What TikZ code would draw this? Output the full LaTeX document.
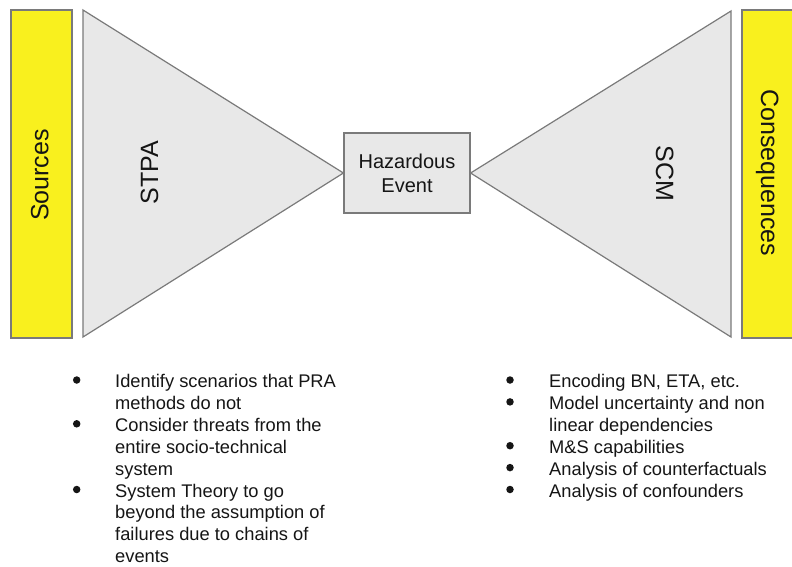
\documentclass[tikz,border=0pt]{standalone}
\usepackage{fontspec}
\setmainfont{Liberation Sans}
\definecolor{barYellow}{HTML}{F9F01E}
\definecolor{wedgeGray}{HTML}{E8E8E8}
\definecolor{edgeGray}{HTML}{7A7A7A}
\definecolor{ink}{HTML}{151515}
\begin{document}
\begin{tikzpicture}[x=1pt,y=-1pt,
  bar/.style={fill=barYellow,draw=edgeGray,line width=1.2pt,inner sep=0},
  wedge/.style={fill=wedgeGray,draw=edgeGray,line width=1.2pt,line join=miter},
  sidelabel/.style={text=ink,font=\fontsize{25}{30}\selectfont,inner sep=0,anchor=base},
  eventbox/.style={fill=wedgeGray,draw=edgeGray,line width=1.2pt,minimum width=126pt,
    minimum height=80pt,align=center,text=ink,font=\fontsize{20}{24.3}\selectfont,inner sep=0},
  dot/.style={circle,fill=ink,inner sep=0,minimum size=7.5pt},
  item/.style={anchor=base west,inner sep=0,text=ink,font=\fontsize{18.3}{21.9}\selectfont}
]
\useasboundingbox (0,0) rectangle (792,566);

% side bars
\node[bar,minimum width=61pt,minimum height=328pt] (sourcesbar) at (41.5,174) {};
\node[bar,minimum width=56pt,minimum height=328pt] (consbar) at (770,174) {};

% central event
\node[eventbox] (hazard) at (407,173) {Hazardous\\Event};

% the two wedges of the bow-tie
\draw[wedge] (83,10) -- (83,337) -- (hazard.west) -- cycle;
\draw[wedge] (731,11) -- (731,337) -- (hazard.east) -- cycle;

% rotated labels
\node[sidelabel,rotate=90] (srclbl) at (48.3,175) {Sources};
\node[sidelabel,rotate=90] (stpalbl) at (158,172.5) {STPA};
\node[sidelabel,rotate=-90] (scmlbl) at (656,173.5) {SCM};
\node[sidelabel,rotate=-90] (conslbl) at (761,173) {Consequences};

% left bullet list
\node[dot] (l1) at (76.7,380) {};
\node[item] (t1) at (115,387.5) {\parbox[t]{280pt}{Identify scenarios that PRA\\methods do not}};
\node[dot] (l2) at (76.7,423.8) {};
\node[item] (t2) at (115,431.3) {\parbox[t]{280pt}{Consider threats from the\\entire socio-technical\\system}};
\node[dot] (l3) at (76.7,489.5) {};
\node[item] (t3) at (115,497) {\parbox[t]{280pt}{System Theory to go\\beyond the assumption of\\failures due to chains of\\events}};

% right bullet list
\node[dot] (r1) at (510,380) {};
\node[item] (u1) at (549,387.5) {Encoding BN, ETA, etc.};
\node[dot] (r2) at (510,401.9) {};
\node[item] (u2) at (549,409.4) {\parbox[t]{240pt}{Model uncertainty and non\\linear dependencies}};
\node[dot] (r3) at (510,445.7) {};
\node[item] (u3) at (549,453.2) {M\&S capabilities};
\node[dot] (r4) at (510,467.6) {};
\node[item] (u4) at (549,475.1) {Analysis of counterfactuals};
\node[dot] (r5) at (510,489.5) {};
\node[item] (u5) at (549,497) {Analysis of confounders};
\end{tikzpicture}
\end{document}
